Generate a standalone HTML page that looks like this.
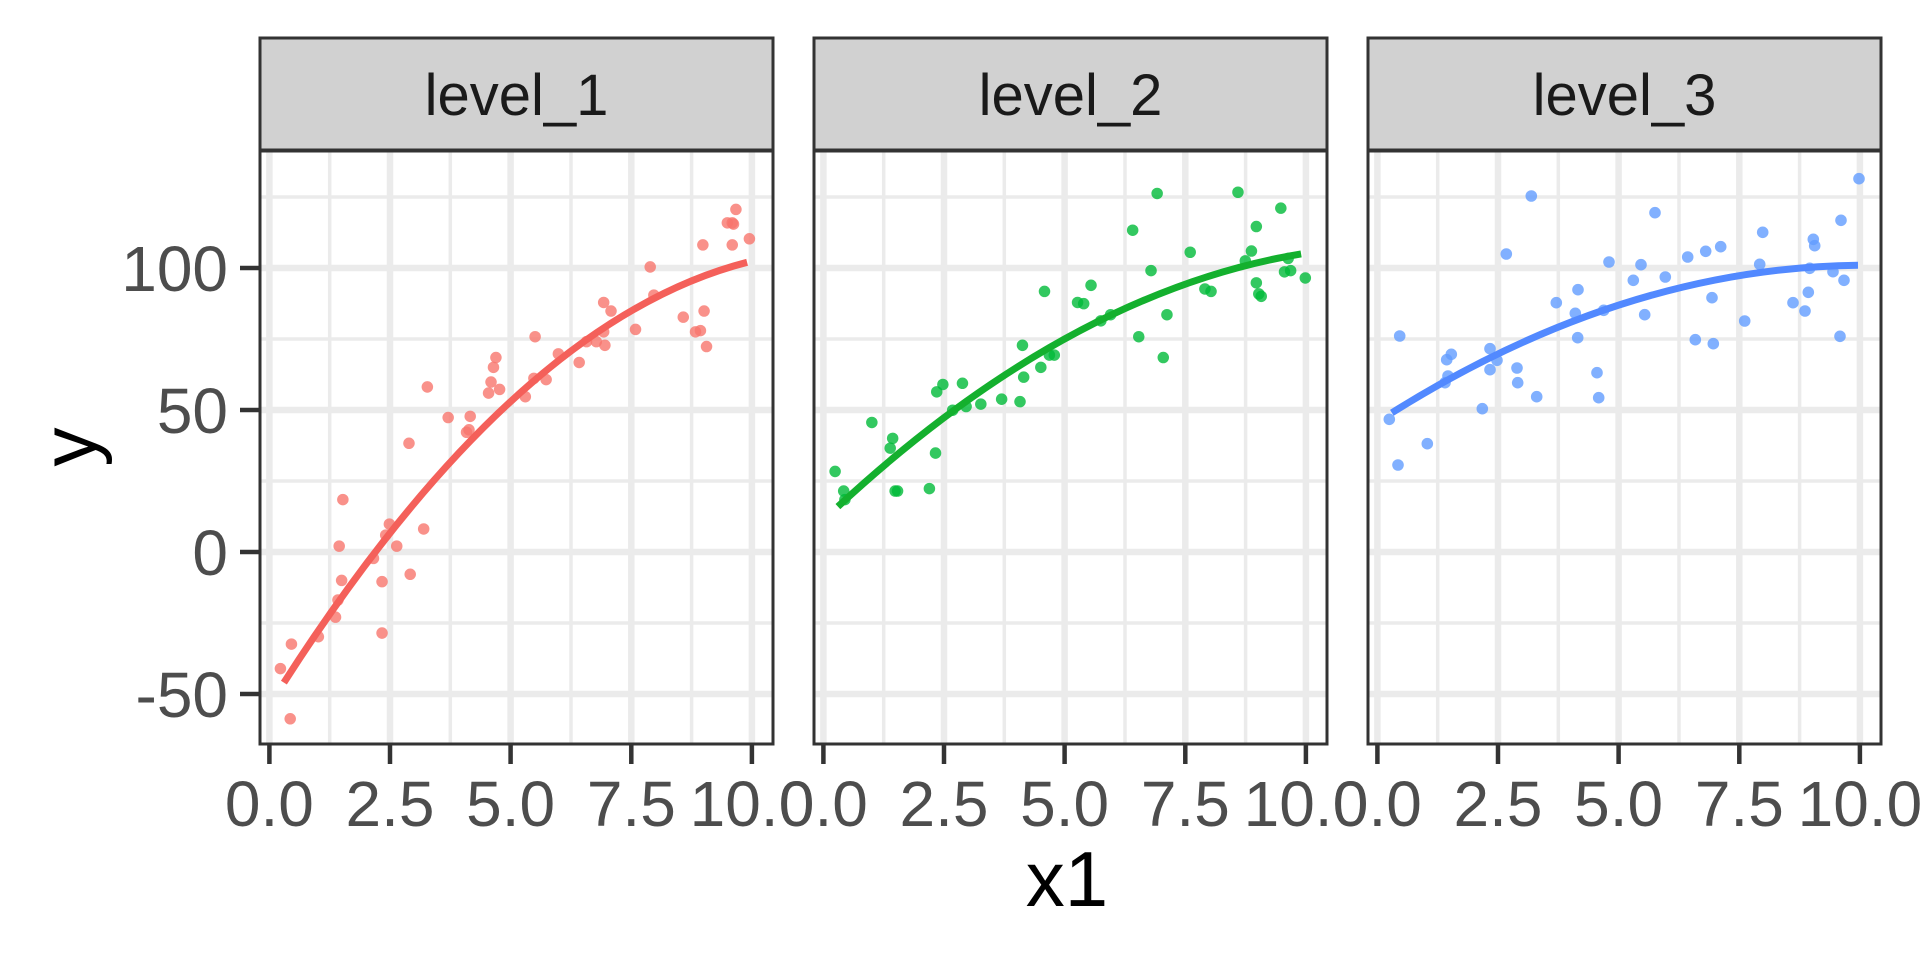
<!DOCTYPE html>
<html><head><meta charset="utf-8"><style>
html,body{margin:0;padding:0;background:#fff;}
svg{display:block;}
text{font-family:"Liberation Sans",Arial,sans-serif;}
</style></head><body>
<svg width="1920" height="960" viewBox="0 0 1920 960" xmlns="http://www.w3.org/2000/svg">
<defs>
<g id="grid">
  <rect x="260" y="151" width="513" height="593" fill="#fff"/>
  <g stroke="#EBEBEB" stroke-width="3.5">
    <line x1="329.7" y1="151" x2="329.7" y2="744"/><line x1="450.3" y1="151" x2="450.3" y2="744"/>
    <line x1="571" y1="151" x2="571" y2="744"/><line x1="691.6" y1="151" x2="691.6" y2="744"/>
    <line x1="260" y1="197" x2="773" y2="197"/><line x1="260" y1="339" x2="773" y2="339"/>
    <line x1="260" y1="481" x2="773" y2="481"/><line x1="260" y1="623" x2="773" y2="623"/>
  </g>
  <g stroke="#EBEBEB" stroke-width="6.5">
    <line x1="269.4" y1="151" x2="269.4" y2="744"/><line x1="390" y1="151" x2="390" y2="744"/>
    <line x1="510.6" y1="151" x2="510.6" y2="744"/><line x1="631.3" y1="151" x2="631.3" y2="744"/>
    <line x1="751.9" y1="151" x2="751.9" y2="744"/>
    <line x1="260" y1="268" x2="773" y2="268"/><line x1="260" y1="410" x2="773" y2="410"/>
    <line x1="260" y1="552" x2="773" y2="552"/><line x1="260" y1="694" x2="773" y2="694"/>
  </g>
  <g stroke="#333" stroke-width="4.5">
    <line x1="269.4" y1="744" x2="269.4" y2="764"/><line x1="390" y1="744" x2="390" y2="764"/>
    <line x1="510.6" y1="744" x2="510.6" y2="764"/><line x1="631.3" y1="744" x2="631.3" y2="764"/>
    <line x1="751.9" y1="744" x2="751.9" y2="764"/>
  </g>
  <g font-size="64" fill="#4D4D4D" text-anchor="middle">
    <text x="269.4" y="826">0.0</text><text x="390" y="826">2.5</text><text x="510.6" y="826">5.0</text>
    <text x="631.3" y="826">7.5</text><text x="751.9" y="826">10.0</text>
  </g>
  <rect x="260" y="38" width="513" height="112" fill="#D1D1D1" stroke="#333" stroke-width="3"/>
</g>
<g id="frame"><rect x="260" y="151" width="513" height="593" fill="none" stroke="#333" stroke-width="3"/></g>
</defs>
<use href="#grid"/>
<use href="#grid" transform="translate(554,0)"/>
<use href="#grid" transform="translate(1108,0)"/>
<g font-size="58" fill="#1A1A1A" text-anchor="middle">
  <text x="516.5" y="115">level_1</text>
  <text x="1070.5" y="115">level_2</text>
  <text x="1624.5" y="115">level_3</text>
</g>
<g stroke="#333" stroke-width="4.5">
  <line x1="240" y1="268" x2="260" y2="268"/><line x1="240" y1="410" x2="260" y2="410"/>
  <line x1="240" y1="552" x2="260" y2="552"/><line x1="240" y1="694" x2="260" y2="694"/>
</g>
<g font-size="64" fill="#4D4D4D" text-anchor="end">
  <text x="228" y="291">100</text><text x="228" y="433">50</text>
  <text x="228" y="575">0</text><text x="228" y="717">-50</text>
</g>
<text x="1067" y="906" font-size="78" fill="#000" text-anchor="middle">x1</text>
<text transform="translate(96,447) rotate(-90)" font-size="78" fill="#000" text-anchor="middle">y</text>

<g transform="scale(1.2245)" fill-opacity="0.8">
<g fill="#F8766D">
<circle cx="229" cy="546" r="4.7"/><circle cx="238" cy="526" r="4.7"/><circle cx="237" cy="587" r="4.7"/><circle cx="260" cy="520" r="4.7"/><circle cx="277" cy="446" r="4.7"/><circle cx="279" cy="474" r="4.7"/><circle cx="274" cy="504" r="4.7"/><circle cx="276" cy="490" r="4.7"/><circle cx="280" cy="408" r="4.7"/><circle cx="305" cy="456" r="4.7"/><circle cx="312" cy="475" r="4.7"/><circle cx="312" cy="517" r="4.7"/><circle cx="315" cy="437" r="4.7"/><circle cx="318" cy="428" r="4.7"/><circle cx="324" cy="446" r="4.7"/><circle cx="334" cy="362" r="4.7"/><circle cx="335" cy="469" r="4.7"/><circle cx="346" cy="432" r="4.7"/><circle cx="349" cy="316" r="4.7"/><circle cx="366" cy="341" r="4.7"/><circle cx="381" cy="353" r="4.7"/><circle cx="384" cy="340" r="4.7"/><circle cx="383" cy="351" r="4.7"/><circle cx="399" cy="321" r="4.7"/><circle cx="401" cy="312" r="4.7"/><circle cx="403" cy="300" r="4.7"/><circle cx="405" cy="292" r="4.7"/><circle cx="408" cy="318" r="4.7"/><circle cx="429" cy="324" r="4.7"/><circle cx="436" cy="309" r="4.7"/><circle cx="437" cy="275" r="4.7"/><circle cx="446" cy="310" r="4.7"/><circle cx="456" cy="289" r="4.7"/><circle cx="473" cy="296" r="4.7"/><circle cx="479" cy="279" r="4.7"/><circle cx="487" cy="279" r="4.7"/><circle cx="493" cy="271" r="4.7"/><circle cx="494" cy="282" r="4.7"/><circle cx="493" cy="247" r="4.7"/><circle cx="499" cy="254" r="4.7"/><circle cx="519" cy="269" r="4.7"/><circle cx="531" cy="218" r="4.7"/><circle cx="534" cy="241" r="4.7"/><circle cx="558" cy="259" r="4.7"/><circle cx="568" cy="271" r="4.7"/><circle cx="572" cy="270" r="4.7"/><circle cx="575" cy="254" r="4.7"/><circle cx="577" cy="283" r="4.7"/><circle cx="574" cy="200" r="4.7"/><circle cx="594" cy="182" r="4.7"/><circle cx="598" cy="200" r="4.7"/><circle cx="599" cy="183" r="4.7"/><circle cx="601" cy="171" r="4.7"/><circle cx="612" cy="195" r="4.7"/><circle cx="598" cy="182" r="4.7"/>
</g>
<g fill="#00BA38">
<circle cx="682" cy="385" r="4.7"/><circle cx="689" cy="401" r="4.7"/><circle cx="690" cy="408" r="4.7"/><circle cx="712" cy="345" r="4.7"/><circle cx="727" cy="366" r="4.7"/><circle cx="729" cy="358" r="4.7"/><circle cx="731" cy="401" r="4.7"/><circle cx="733" cy="401" r="4.7"/><circle cx="759" cy="399" r="4.7"/><circle cx="764" cy="370" r="4.7"/><circle cx="765" cy="320" r="4.7"/><circle cx="770" cy="314" r="4.7"/><circle cx="778" cy="335" r="4.7"/><circle cx="786" cy="313" r="4.7"/><circle cx="789" cy="332" r="4.7"/><circle cx="801" cy="330" r="4.7"/><circle cx="818" cy="326" r="4.7"/><circle cx="833" cy="328" r="4.7"/><circle cx="835" cy="282" r="4.7"/><circle cx="836" cy="308" r="4.7"/><circle cx="850" cy="300" r="4.7"/><circle cx="853" cy="238" r="4.7"/><circle cx="857" cy="290" r="4.7"/><circle cx="861" cy="290" r="4.7"/><circle cx="880" cy="247" r="4.7"/><circle cx="885" cy="248" r="4.7"/><circle cx="891" cy="233" r="4.7"/><circle cx="899" cy="262" r="4.7"/><circle cx="907" cy="257" r="4.7"/><circle cx="925" cy="188" r="4.7"/><circle cx="930" cy="275" r="4.7"/><circle cx="940" cy="221" r="4.7"/><circle cx="945" cy="158" r="4.7"/><circle cx="950" cy="292" r="4.7"/><circle cx="953" cy="257" r="4.7"/><circle cx="972" cy="206" r="4.7"/><circle cx="984" cy="236" r="4.7"/><circle cx="989" cy="238" r="4.7"/><circle cx="1011" cy="157" r="4.7"/><circle cx="1017" cy="213" r="4.7"/><circle cx="1022" cy="205" r="4.7"/><circle cx="1026" cy="185" r="4.7"/><circle cx="1026" cy="231" r="4.7"/><circle cx="1028" cy="240" r="4.7"/><circle cx="1030" cy="242" r="4.7"/><circle cx="1046" cy="170" r="4.7"/><circle cx="1049" cy="222" r="4.7"/><circle cx="1052" cy="211" r="4.7"/><circle cx="1054" cy="221" r="4.7"/><circle cx="1066" cy="227" r="4.7"/>
</g>
</g>
<g fill="#619CFF" fill-opacity="0.8">
<circle cx="1389.3" cy="419.3" r="5.8"/><circle cx="1398" cy="465" r="5.8"/><circle cx="1399.7" cy="336" r="5.8"/><circle cx="1427.3" cy="443.7" r="5.8"/><circle cx="1445" cy="382.7" r="5.8"/><circle cx="1448" cy="376" r="5.8"/><circle cx="1446.7" cy="359.7" r="5.8"/><circle cx="1451.3" cy="354.3" r="5.8"/><circle cx="1482.3" cy="408.7" r="5.8"/><circle cx="1490" cy="348.7" r="5.8"/><circle cx="1490" cy="369.7" r="5.8"/><circle cx="1497" cy="360.3" r="5.8"/><circle cx="1517" cy="368" r="5.8"/><circle cx="1517.7" cy="382.7" r="5.8"/><circle cx="1506.3" cy="254" r="5.8"/><circle cx="1536.7" cy="396.7" r="5.8"/><circle cx="1531.3" cy="196" r="5.8"/><circle cx="1556.3" cy="302.7" r="5.8"/><circle cx="1575.3" cy="313.3" r="5.8"/><circle cx="1577.7" cy="337.7" r="5.8"/><circle cx="1578" cy="289.7" r="5.8"/><circle cx="1597" cy="372.7" r="5.8"/><circle cx="1598.7" cy="397.7" r="5.8"/><circle cx="1603.7" cy="310.3" r="5.8"/><circle cx="1609" cy="262" r="5.8"/><circle cx="1633.3" cy="280.3" r="5.8"/><circle cx="1641" cy="264.7" r="5.8"/><circle cx="1644.7" cy="314.7" r="5.8"/><circle cx="1655" cy="212.7" r="5.8"/><circle cx="1665.3" cy="277" r="5.8"/><circle cx="1687.7" cy="257" r="5.8"/><circle cx="1695.3" cy="339.7" r="5.8"/><circle cx="1705.7" cy="251.3" r="5.8"/><circle cx="1712" cy="297.7" r="5.8"/><circle cx="1713.3" cy="343.7" r="5.8"/><circle cx="1720.7" cy="246.7" r="5.8"/><circle cx="1744.7" cy="321" r="5.8"/><circle cx="1759.7" cy="264.3" r="5.8"/><circle cx="1762.7" cy="232.3" r="5.8"/><circle cx="1793" cy="302.7" r="5.8"/><circle cx="1805" cy="311" r="5.8"/><circle cx="1808.3" cy="292.3" r="5.8"/><circle cx="1809.7" cy="268.3" r="5.8"/><circle cx="1813.3" cy="239.3" r="5.8"/><circle cx="1814.7" cy="245.7" r="5.8"/><circle cx="1833" cy="271.7" r="5.8"/><circle cx="1840" cy="336.3" r="5.8"/><circle cx="1841" cy="220.3" r="5.8"/><circle cx="1844" cy="280.3" r="5.8"/><circle cx="1859" cy="178.7" r="5.8"/>
</g>
<g fill="none" stroke-width="7">
<path d="M283.9,682.6 Q515.5,321.7 747.1,262.3" stroke="#F4605A"/>
<path d="M837.9,506.6 Q1069.5,292.4 1301.1,253.9" stroke="#14B02E"/>
<path d="M1391.9,412.8 Q1623.5,267.7 1858,265.2" stroke="#5289FF"/>
</g>
<use href="#frame"/>
<use href="#frame" transform="translate(554,0)"/>
<use href="#frame" transform="translate(1108,0)"/>
</svg>
</body></html>
